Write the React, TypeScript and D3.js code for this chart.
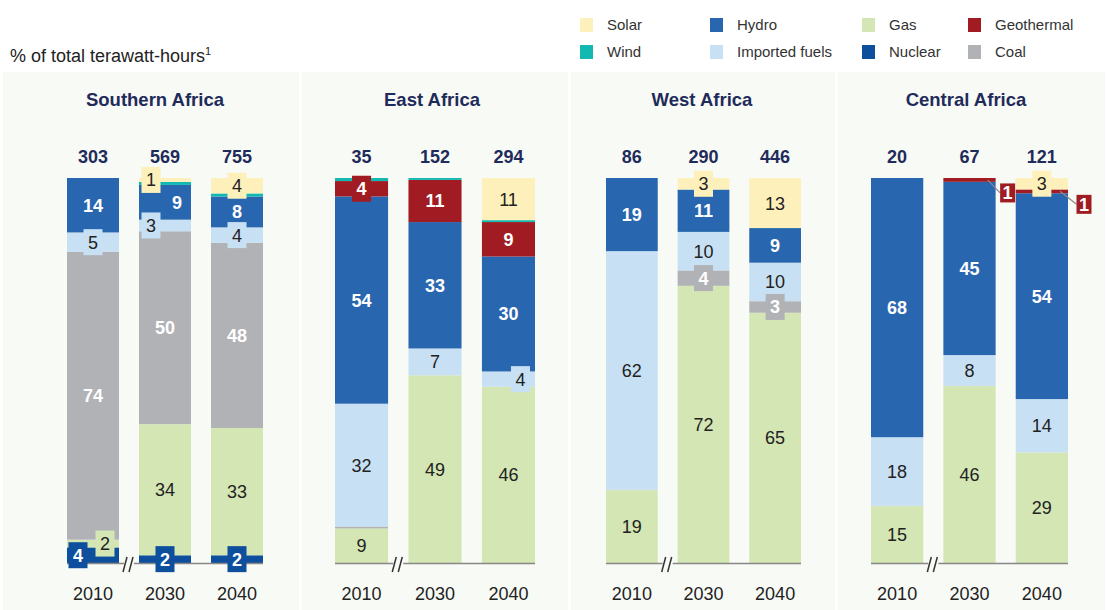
import React from 'react';
import * as d3 from 'd3';

// ---------- data ----------
const regions = ['Southern Africa', 'East Africa', 'West Africa', 'Central Africa'];
const years = ['2010', '2030', '2040'];
const totals = [
  [303, 569, 755],
  [35, 152, 294],
  [86, 290, 446],
  [20, 67, 121],
];
// stack order, bottom to top
const seriesNames = ['Nuclear', 'Gas', 'Coal', 'Imported fuels', 'Hydro', 'Geothermal', 'Wind', 'Solar'];
// values per region (rows) and year (columns), % of total TWh
const nuclear = [[4, 2, 2], [0, 0, 0], [0, 0, 0], [0, 0, 0]];
const gas = [[2, 34, 33], [9, 49, 46], [19, 72, 65], [15, 46, 29]];
const coal = [[74, 50, 48], [0.5, 0, 0], [0, 4, 3], [0, 0, 0]];
const importedFuels = [[5, 3, 4], [32, 7, 4], [62, 10, 10], [18, 8, 14]];
const hydro = [[14, 9, 8], [54, 33, 30], [19, 11, 9], [68, 45, 54]];
const geothermal = [[0, 0, 0], [4, 11, 9], [0, 0, 0], [0, 1, 1]];
const wind = [[0, 0.8, 0.8], [0.8, 0.5, 0.5], [0, 0, 0], [0, 0, 0]];
const solar = [[0, 1, 4], [0, 0, 11], [0, 3, 13], [0, 0, 3]];

const seriesData: Record<string, number[][]> = {
  Nuclear: nuclear,
  Gas: gas,
  Coal: coal,
  'Imported fuels': importedFuels,
  Hydro: hydro,
  Geothermal: geothermal,
  Wind: wind,
  Solar: solar,
};

const colors: Record<string, string> = {
  Solar: '#fef0ba',
  Wind: '#13b9b0',
  Hydro: '#2966b0',
  'Imported fuels': '#c8e0f4',
  Gas: '#d3e6b4',
  Nuclear: '#0e4f9d',
  Geothermal: '#a11c22',
  Coal: '#b1b2b6',
};
const darkSeries = new Set(['Nuclear', 'Coal', 'Hydro', 'Geothermal']);

const legendRows = [
  ['Solar', 'Hydro', 'Gas', 'Geothermal'],
  ['Wind', 'Imported fuels', 'Nuclear', 'Coal'],
];

// label placement hints (r = region index, i = year index)
type Hint = { r: number; i: number; s: string; box?: boolean; dx?: number; callout?: number };
const labelHints: Hint[] = [
  { r: 0, i: 0, s: 'Imported fuels', box: true },
  { r: 0, i: 0, s: 'Gas', box: true, dx: 12 },
  { r: 0, i: 0, s: 'Nuclear', box: true, dx: -15 },
  { r: 0, i: 1, s: 'Solar', box: true, dx: -14 },
  { r: 0, i: 1, s: 'Hydro', dx: 12 },
  { r: 0, i: 1, s: 'Imported fuels', box: true, dx: -14 },
  { r: 0, i: 1, s: 'Nuclear', box: true },
  { r: 0, i: 2, s: 'Solar', box: true },
  { r: 0, i: 2, s: 'Imported fuels', box: true },
  { r: 0, i: 2, s: 'Nuclear', box: true },
  { r: 1, i: 0, s: 'Geothermal', box: true },
  { r: 1, i: 2, s: 'Imported fuels', box: true, dx: 12 },
  { r: 2, i: 1, s: 'Solar', box: true },
  { r: 2, i: 1, s: 'Coal', box: true },
  { r: 2, i: 2, s: 'Coal', box: true },
  { r: 3, i: 1, s: 'Geothermal', callout: 12 },
  { r: 3, i: 2, s: 'Solar', box: true },
  { r: 3, i: 2, s: 'Geothermal', callout: 16 },
];

// ---------- layout ----------
const W = 1108;
const H = 610;
const panels = [
  [3, 299],
  [302, 568],
  [571, 835],
  [838, 1105],
];
const barRanges = [
  [67, 263],
  [335, 535],
  [606, 801],
  [871, 1068],
];
const titleX = [155, 432, 702, 966];
const baseY = 563;
const topY = 178;
const FONT = 'Arial, "Liberation Sans", Helvetica, sans-serif';
const NAVY = '#1f2b5b';
const TEXT = '#222';

export default function App() {
  const y = d3.scaleLinear().domain([0, 100]).range([baseY, topY]);

  const rows: any[] = [];
  regions.forEach((_, r) =>
    years.forEach((_y, i) => {
      const sum = d3.sum(seriesNames, (s) => seriesData[s][r][i]);
      const row: any = { r, i };
      seriesNames.forEach((s) => (row[s] = (seriesData[s][r][i] / sum) * 100));
      rows.push(row);
    })
  );
  const stacked = d3.stack<any>().keys(seriesNames)(rows);

  const xScales = barRanges.map((rg) =>
    d3.scaleBand<string>().domain(years).range(rg as [number, number]).paddingInner(20 / 72).paddingOuter(0)
  );

  const hintFor = (r: number, i: number, s: string) => labelHints.find((h) => h.r === r && h.i === i && h.s === s);

  const bars: any[] = [];
  const labels: any[] = [];
  stacked.forEach((layer) => {
    const s = layer.key;
    layer.forEach((d: any) => {
      const { r, i } = d.data;
      const x = xScales[r];
      const x0 = x(years[i])!;
      const bw = x.bandwidth();
      const y0 = y(d[0]);
      const y1 = y(d[1]);
      if (d[1] - d[0] <= 0) return;
      bars.push(
        <rect key={`b-${s}-${r}-${i}`} x={x0} y={y1} width={bw} height={y0 - y1} fill={colors[s]} />
      );
      const raw = seriesData[s][r][i];
      if (raw < 1 || s === 'Wind') return;
      const hint = hintFor(r, i, s);
      const cy = (y0 + y1) / 2;
      const dark = darkSeries.has(s);
      if (hint && hint.callout !== undefined) {
        const bx = x0 + bw + hint.callout;
        const by = cy + 13;
        labels.push(
          <g key={`l-${s}-${r}-${i}`}>
            <line x1={x0 + bw - 8} y1={cy} x2={bx - 7.5} y2={by} stroke="#8a8a8a" strokeWidth={1.2} />
            <rect x={bx - 7.5} y={by - 9.5} width={15} height={19} fill={colors[s]} />
            <text x={bx} y={by} dy="0.35em" textAnchor="middle" fontFamily={FONT} fontSize={18} fontWeight="bold" fill="#fff">
              {raw}
            </text>
          </g>
        );
        return;
      }
      const cx = x0 + bw / 2 + (hint?.dx ?? 0);
      labels.push(
        <g key={`l-${s}-${r}-${i}`}>
          {hint?.box && <rect x={cx - 9.5} y={cy - 13} width={19} height={26} fill={colors[s]} />}
          <text
            x={cx}
            y={cy}
            dy="0.36em"
            textAnchor="middle"
            fontFamily={FONT}
            fontSize={18}
            fontWeight={dark ? 'bold' : 'normal'}
            fill={dark ? '#fff' : TEXT}
          >
            {raw}
          </text>
        </g>
      );
    });
  });

  return (
    <svg width={W} height={H} style={{ position: 'absolute', left: 0, top: 0, background: '#fff' }}>
      {/* panels */}
      {panels.map(([a, b], r) => (
        <rect key={`p${r}`} x={a} y={72} width={b - a} height={H - 72} fill="#f8faf5" />
      ))}

      {/* unit label */}
      <text x={10} y={62} fontFamily={FONT} fontSize={18} fill={TEXT}>
        % of total terawatt-hours
        <tspan fontSize={11} dy={-7}>1</tspan>
      </text>

      {/* legend */}
      {legendRows.map((row, ri) =>
        row.map((name, ci) => {
          const sx = [580, 710, 862, 968][ci];
          const cy = [25, 52][ri];
          return (
            <g key={`lg-${name}`}>
              <rect x={sx} y={cy - 7} width={13} height={14} fill={colors[name]} />
              <text x={sx + 27} y={cy} dy="0.35em" fontFamily={FONT} fontSize={15} fill="#333">
                {name}
              </text>
            </g>
          );
        })
      )}

      {/* titles & totals */}
      {regions.map((reg, r) => (
        <g key={`t${r}`}>
          <text x={titleX[r]} y={100} dy="0.35em" textAnchor="middle" fontFamily={FONT} fontSize={18.5} fontWeight="bold" fill={NAVY}>
            {reg}
          </text>
          {years.map((yr, i) => (
            <text
              key={yr}
              x={xScales[r](yr)! + xScales[r].bandwidth() / 2}
              y={157}
              dy="0.35em"
              textAnchor="middle"
              fontFamily={FONT}
              fontSize={18}
              fontWeight="bold"
              fill={NAVY}
            >
              {totals[r][i]}
            </text>
          ))}
          {years.map((yr) => (
            <text
              key={`y${yr}`}
              x={xScales[r](yr)! + xScales[r].bandwidth() / 2}
              y={594}
              dy="0.35em"
              textAnchor="middle"
              fontFamily={FONT}
              fontSize={18}
              fill={TEXT}
            >
              {yr}
            </text>
          ))}
        </g>
      ))}

      {bars}

      {/* baselines with axis break */}
      {regions.map((_, r) => {
        const x = xScales[r];
        const bw = x.bandwidth();
        const left = x(years[0])!;
        const right = x(years[2])! + bw;
        const mid = (x(years[0])! + bw + x(years[1])!) / 2;
        return (
          <g key={`ax${r}`}>
            <line x1={left} x2={mid - 5} y1={baseY + 0.5} y2={baseY + 0.5} stroke="#888" strokeWidth={1.5} />
            <line x1={mid + 5} x2={right} y1={baseY + 0.5} y2={baseY + 0.5} stroke="#888" strokeWidth={1.5} />
            <line x1={mid - 6} y1={572} x2={mid - 2} y2={557} stroke="#333" strokeWidth={1.5} />
            <line x1={mid} y1={572} x2={mid + 4} y2={557} stroke="#333" strokeWidth={1.5} />
          </g>
        );
      })}

      {labels}
    </svg>
  );
}
